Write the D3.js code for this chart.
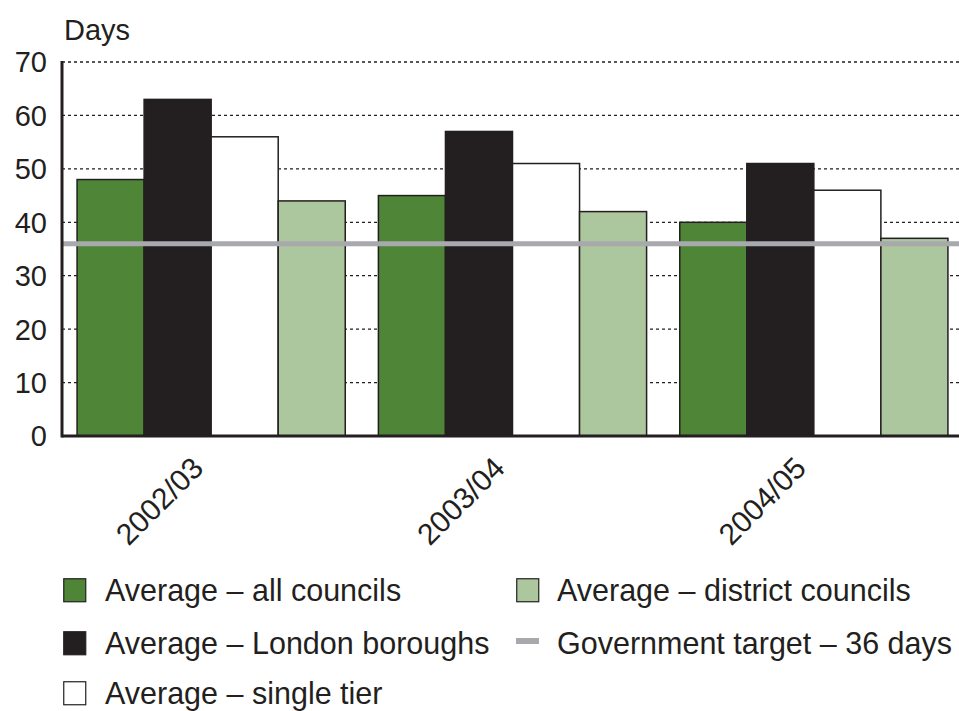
<!DOCTYPE html>
<html>
<head>
<meta charset="utf-8">
<script src="https://cdn.jsdelivr.net/npm/d3@7"></script>
<style>
  body { margin: 0; background: #fff; }
  text { font-family: "Liberation Sans", Arial, sans-serif; fill: #231f20; }
</style>
</head>
<body>
<svg id="svg" width="959" height="711"></svg>
<script>
// data
const years = ["2002/03", "2003/04", "2004/05"];
const series = ["all", "london", "single", "district"];
const allCouncils = [48, 45, 40];
const londonBoroughs = [63, 57, 51];
const singleTier = [56, 51, 46];
const districtCouncils = [44, 42, 37];
const target = 36;
const yTicks = [0, 10, 20, 30, 40, 50, 60, 70];

const colors = {
  all: "#4f8537",
  london: "#231f20",
  single: "#ffffff",
  district: "#acc69d"
};

const legendItems = [
  { key: "all", label: "Average \u2013 all councils", col: 0, row: 0 },
  { key: "london", label: "Average \u2013 London boroughs", col: 0, row: 1 },
  { key: "single", label: "Average \u2013 single tier", col: 0, row: 2 },
  { key: "district", label: "Average \u2013 district councils", col: 1, row: 0 },
  { key: "target", label: "Government target \u2013 36 days", col: 1, row: 1 }
];

const values = { all: allCouncils, london: londonBoroughs, single: singleTier, district: districtCouncils };

const plotLeft = 62, plotRight = 959, plotTop = 62, plotBottom = 436;

const svg = d3.select("#svg");

const y = d3.scaleLinear().domain([0, 70]).range([plotBottom, plotTop]);
const x0 = d3.scaleBand().domain(years).range([plotLeft, 963]).paddingInner(0.11).paddingOuter(0.05);
const x1 = d3.scaleBand().domain(series).range([0, x0.bandwidth()]);

// gridlines (dotted)
svg.append("g")
  .selectAll("line")
  .data(yTicks.filter(d => d > 0))
  .join("line")
  .attr("x1", plotLeft)
  .attr("x2", plotRight)
  .attr("y1", d => y(d))
  .attr("y2", d => y(d))
  .attr("stroke", "#231f20")
  .attr("stroke-width", 1.3)
  .attr("stroke-dasharray", "3,3");

// tick labels
svg.append("g")
  .selectAll("text")
  .data(yTicks)
  .join("text")
  .attr("x", 47)
  .attr("y", d => y(d))
  .attr("dy", "0.36em")
  .attr("text-anchor", "end")
  .attr("font-size", 29)
  .text(d => d);

svg.append("text")
  .attr("x", 64)
  .attr("y", 40)
  .attr("font-size", 29)
  .text("Days");

// bars
const groups = svg.append("g")
  .selectAll("g")
  .data(years)
  .join("g")
  .attr("transform", d => `translate(${x0(d)},0)`);

groups.selectAll("rect")
  .data((d, i) => series.map(s => ({ key: s, value: values[s][i] })))
  .join("rect")
  .attr("x", d => x1(d.key))
  .attr("width", x1.bandwidth())
  .attr("y", d => y(d.value))
  .attr("height", d => y(0) - y(d.value))
  .attr("fill", d => colors[d.key])
  .attr("stroke", "#231f20")
  .attr("stroke-width", 1.5);

// target line
svg.append("line")
  .attr("x1", plotLeft)
  .attr("x2", plotRight)
  .attr("y1", y(target))
  .attr("y2", y(target))
  .attr("stroke", "#a7a9ac")
  .attr("stroke-width", 5);

// axis lines
svg.append("line")
  .attr("x1", plotLeft).attr("x2", plotLeft)
  .attr("y1", plotTop - 1).attr("y2", plotBottom + 1.5)
  .attr("stroke", "#231f20").attr("stroke-width", 3);
svg.append("line")
  .attr("x1", plotLeft).attr("x2", plotRight)
  .attr("y1", plotBottom).attr("y2", plotBottom)
  .attr("stroke", "#231f20").attr("stroke-width", 3);

// rotated year labels
svg.append("g")
  .selectAll("text")
  .data(years)
  .join("text")
  .attr("transform", d => `translate(${x0(d) + x0.bandwidth() / 2 - 6},470) rotate(-45)`)
  .attr("text-anchor", "end")
  .attr("font-size", 30)
  .text(d => d);

// legend
const colX = [63, 516];
const rowY = [578, 631, 681];

const leg = svg.append("g")
  .selectAll("g")
  .data(legendItems)
  .join("g")
  .attr("transform", d => `translate(${colX[d.col]},${rowY[d.row]})`);

leg.filter(d => d.key !== "target")
  .append("rect")
  .attr("x", 0.75)
  .attr("y", 0.75)
  .attr("width", 22)
  .attr("height", 23)
  .attr("fill", d => colors[d.key])
  .attr("stroke", "#231f20")
  .attr("stroke-width", 1.2);

leg.filter(d => d.key === "target")
  .append("rect")
  .attr("x", 0)
  .attr("y", 7)
  .attr("width", 23)
  .attr("height", 6)
  .attr("fill", "#a7a9ac");

leg.append("text")
  .attr("x", d => d.col === 0 ? 42 : 41)
  .attr("y", 12)
  .attr("dy", "0.36em")
  .attr("font-size", 30.5)
  .text(d => d.label);
</script>
</body>
</html>
